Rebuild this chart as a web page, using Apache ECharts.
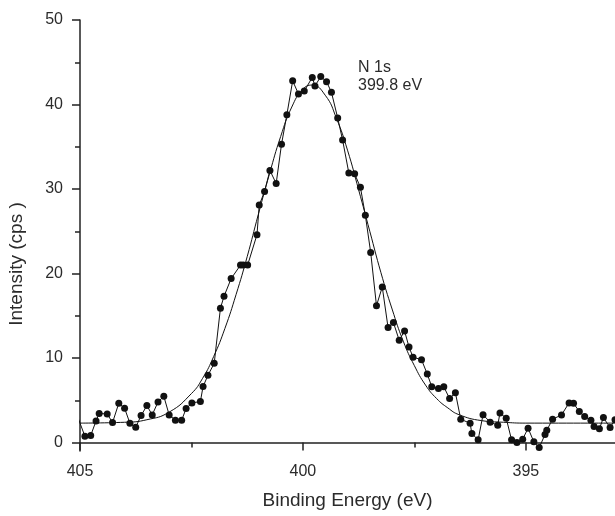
<!DOCTYPE html>
<html>
<head>
<meta charset="utf-8">
<title>N 1s</title>
<script src="https://cdn.jsdelivr.net/npm/echarts@6/dist/echarts.min.js"></script>
<style>
    html, body { margin: 0; padding: 0; background: #fff; }
    #echart1 { width: 615px; height: 516px; }
</style>
</head>
<body>
<div id="echart1"></div>
<script>
// measured points (binding energy eV / intensity cps)
var energy = [405.1, 404.89, 404.76, 404.64, 404.57, 404.39, 404.27, 404.13, 404.00, 403.88,
    403.75, 403.63, 403.50, 403.38, 403.25, 403.12, 403.00, 402.86, 402.72, 402.62,
    402.49, 402.30, 402.24, 402.13, 401.99, 401.85, 401.77, 401.61, 401.40, 401.34,
    401.24, 401.03, 400.98, 400.86, 400.74, 400.60, 400.48, 400.36, 400.23, 400.10,
    399.97, 399.79, 399.73, 399.60, 399.47, 399.36, 399.22, 399.11, 398.97, 398.84,
    398.71, 398.60, 398.48, 398.35, 398.22, 398.09, 397.97, 397.84, 397.72, 397.62,
    397.53, 397.34, 397.21, 397.11, 396.96, 396.84, 396.71, 396.58, 396.46, 396.25,
    396.21, 396.07, 395.96, 395.80, 395.63, 395.58, 395.44, 395.32, 395.20, 395.07,
    394.95, 394.82, 394.70, 394.57, 394.53, 394.40, 394.20, 394.03, 393.93, 393.80,
    393.68, 393.54, 393.47, 393.35, 393.26, 393.11, 393.00];
var counts = [3.7, 0.75, 0.83, 2.56, 3.43, 3.39, 2.36, 4.65, 4.06, 2.28,
    1.81, 3.19, 4.37, 3.27, 4.81, 5.47, 3.27, 2.64, 2.64, 4.02,
    4.69, 4.85, 6.62, 7.96, 9.37, 15.9, 17.3, 19.4, 21.0, 21.0,
    21.0, 24.6, 28.1, 29.7, 32.2, 30.65, 35.3, 38.8, 42.8, 41.25,
    41.6, 43.2, 42.2, 43.3, 42.7, 41.45, 38.4, 35.8, 31.9, 31.8,
    30.2, 26.9, 22.5, 16.2, 18.4, 13.6, 14.2, 12.1, 13.2, 11.3,
    10.1, 9.8, 8.1, 6.6, 6.4, 6.6, 5.2, 5.9, 2.76, 2.28,
    1.06, 0.32, 3.3, 2.4, 2.05, 3.5, 2.87, 0.32, 0.0, 0.4,
    1.7, 0.08, -0.6, 0.95, 1.45, 2.76, 3.27, 4.69, 4.65, 3.66,
    3.07, 2.64, 1.89, 1.62, 2.95, 1.77, 2.7];

// fitted curve
var fitEnergy = [405, 404, 403.5, 403, 402.5, 402.25, 402, 401.75, 401.5, 401.25,
    401, 400.75, 400.5, 400.25, 400, 399.8, 399.5, 399.25, 399, 398.75,
    398.5, 398.25, 398, 397.75, 397.5, 397.25, 397, 396.75, 396.5, 396,
    395.5, 395, 393];
var fitCounts = [2.3, 2.4, 2.7, 3.6, 5.8, 7.6, 10.2, 13.5, 17.5, 22.0,
    27.0, 31.8, 36.2, 39.7, 41.8, 42.3, 41.1, 38.4, 34.6, 29.9,
    25.0, 20.1, 15.8, 12.0, 9.1, 6.8, 5.2, 4.1, 3.3, 2.6,
    2.4, 2.3, 2.3];

var xMajor = [395, 400, 405];
var xMinor = [397.5, 402.5];
var yMajor = [0, 10, 20, 30, 40, 50];
var yMinor = [5, 15, 25, 35, 45];

function pairs(xs, ys) {
    var out = [];
    for (var i = 0; i < xs.length; i++) {
        out.push([xs[i], ys[i]]);
    }
    return out;
}

var axisColor = '#222';
var textColor = '#2b2b2b';
var fontName = '"Liberation Sans", Arial, sans-serif';

var myChart = echarts.init(document.getElementById('echart1'));
var option = {
    animation: false,
    backgroundColor: '#fff',
    grid: {
        left: 80,
        right: 0,
        top: 20,
        bottom: 65
    },
    xAxis: [
        {
            type: 'value',
            min: 393,
            max: 405,
            inverse: true,
            position: 'bottom',
            name: 'Binding Energy (eV)',
            nameLocation: 'middle',
            nameGap: 40,
            nameTextStyle: { fontSize: 19, color: textColor, fontFamily: fontName },
            axisLine: { show: true, lineStyle: { color: axisColor, width: 1.5 } },
            axisTick: { show: true, length: 8, customValues: xMajor, lineStyle: { color: axisColor, width: 1.5 } },
            axisLabel: { show: true, customValues: xMajor, margin: 13, fontSize: 16, color: textColor, fontFamily: fontName },
            splitLine: { show: false }
        },
        {
            // minor ticks only
            type: 'value',
            min: 393,
            max: 405,
            inverse: true,
            position: 'bottom',
            offset: 0,
            axisLine: { show: false },
            axisTick: { show: true, length: 5, customValues: xMinor, lineStyle: { color: axisColor, width: 1.5 } },
            axisLabel: { show: false },
            splitLine: { show: false }
        }
    ],
    yAxis: [
        {
            type: 'value',
            min: -1,
            max: 50,
            position: 'left',
            axisLine: { show: true, lineStyle: { color: axisColor, width: 1.5 } },
            axisTick: { show: true, length: 8, customValues: yMajor, lineStyle: { color: axisColor, width: 1.5 } },
            axisLabel: { show: true, customValues: yMajor, margin: 17, fontSize: 16, color: textColor, fontFamily: fontName },
            splitLine: { show: false }
        },
        {
            type: 'value',
            min: -1,
            max: 50,
            position: 'left',
            offset: 0,
            axisLine: { show: false },
            axisTick: { show: true, length: 5, customValues: yMinor, lineStyle: { color: axisColor, width: 1.5 } },
            axisLabel: { show: false },
            splitLine: { show: false }
        }
    ],
    graphic: [
        {
            type: 'text',
            x: 17,
            y: 264,
            rotation: Math.PI / 2,
            style: {
                text: 'Intensity (cps )',
                font: '19px ' + fontName,
                fill: textColor,
                align: 'center',
                verticalAlign: 'middle'
            }
        },
        {
            type: 'text',
            x: 358,
            y: 68,
            style: {
                text: 'N 1s',
                font: '16px ' + fontName,
                fill: textColor,
                align: 'left',
                verticalAlign: 'middle'
            }
        },
        {
            type: 'text',
            x: 358,
            y: 86,
            style: {
                text: '399.8 eV',
                font: '16px ' + fontName,
                fill: textColor,
                align: 'left',
                verticalAlign: 'middle'
            }
        }
    ],
    series: [
        {
            name: 'fit',
            type: 'line',
            xAxisIndex: 0,
            yAxisIndex: 0,
            smooth: true,
            showSymbol: false,
            symbol: 'none',
            lineStyle: { color: '#111', width: 1 },
            data: pairs(fitEnergy, fitCounts)
        },
        {
            name: 'N 1s',
            type: 'line',
            xAxisIndex: 0,
            yAxisIndex: 0,
            symbol: 'circle',
            symbolSize: 7,
            showAllSymbol: true,
            itemStyle: { color: '#111' },
            lineStyle: { color: '#111', width: 1 },
            data: pairs(energy, counts)
        }
    ]
};
myChart.setOption(option);
</script>
</body>
</html>
